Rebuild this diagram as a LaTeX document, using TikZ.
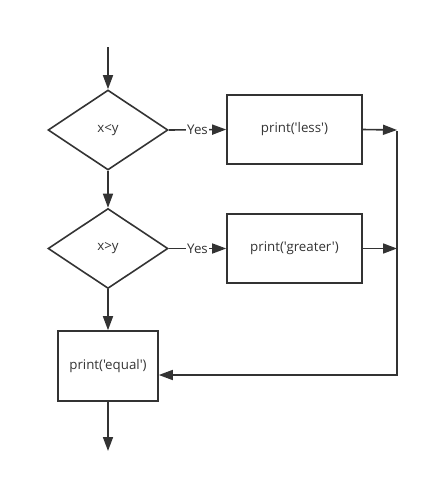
\documentclass[tikz,border=0pt]{standalone}
\usepackage{fontspec}
\newfontfamily\labfont{Open Sans}
\usetikzlibrary{shapes.geometric,arrows.meta}
\definecolor{ink}{HTML}{333333}
\tikzset{
  txt/.style={font=\labfont\fontsize{13.3}{15}\selectfont, text=ink},
  flow/.style={draw=ink, line width=1.6pt},
  dec/.style={flow, txt, diamond, minimum width=120pt, minimum height=80pt, inner sep=0pt, aspect=1.5},
  proc/.style={flow, txt, rectangle, minimum width=135pt, minimum height=69pt, inner sep=0pt},
  arr/.style={draw=ink, line width=1.6pt, -{Triangle[length=14pt,width=10pt]}},
  lab/.style={txt, fill=white, inner sep=1pt}
}
\begin{document}
\begin{tikzpicture}[x=1pt,y=-1pt]
\useasboundingbox (0,0) rectangle (427,480);
\node[dec] (d1) at (108,130) {x<y};
\node[dec] (d2) at (108,248.5) {x>y};
\node[proc] (p1) at (294.5,129.5) {print('less')};
\node[proc] (p2) at (294.5,248.5) {print('greater')};
\node[proc, minimum width=100pt, minimum height=70pt] (p3) at (108,366) {print('equal')};
\coordinate (start) at (108,47);
\coordinate (end) at (108,451);
\coordinate (j1) at (397,130);
\coordinate (j2) at (397,248.5);
\coordinate (jt) at (397,131);
\coordinate (jb) at (397,375);
\draw[arr] (start) -- (d1.north);
\draw[arr] (d1.south) -- (d2.north);
\draw[arr] (d2.south) -- (p3.north);
\draw[arr] (p3.south) -- (end);
\draw[arr] (d1.east) -- node[lab]{Yes} (p1.west);
\draw[arr] (d2.east) -- node[lab]{Yes} (p2.west);
\draw[arr] (p1.east) -- (j1);
\draw[arr] (p2.east) -- (j2);
\draw[arr, line join=miter] (jt) -- (jb) -- (p3.east |- jb);
\end{tikzpicture}
\end{document}
